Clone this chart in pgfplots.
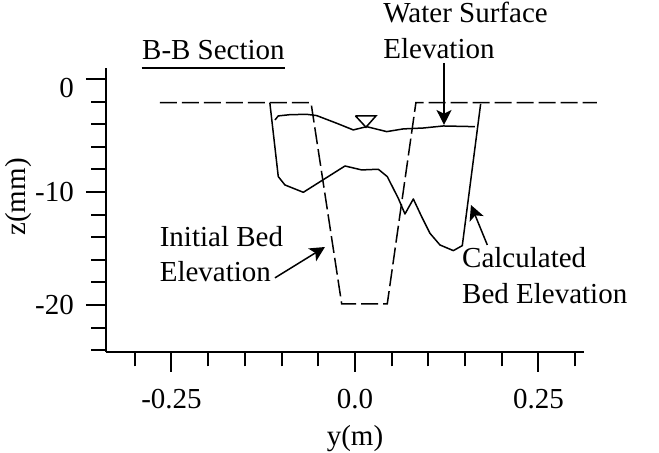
\documentclass[border=0pt]{standalone}
\usepackage{fontspec}
\setmainfont{Liberation Serif}
\usepackage{pgfplots}
\pgfplotsset{compat=1.18}
\usetikzlibrary{arrows.meta}
\newcommand{\ff}{\fontsize{11.6pt}{14pt}\selectfont}
\begin{document}
\ff
\begin{tikzpicture}[font=\ff]
\useasboundingbox (-42.4pt,-40.4pt) rectangle (221.2pt,140.8pt);
\begin{axis}[
 at={(0,0)}, anchor=south west,
 scale only axis, width=191.2pt, height=113.6pt,
 xmin=-0.3392, xmax=0.312, ymin=-24.16, ymax=0.97,
 axis x line*=bottom, axis y line*=left,
 axis line style={-, line width=0.8pt},
 tick align=outside, major tick length=8pt, minor tick length=5.8pt,
 tick style={black, line width=0.8pt},
 xtick={-0.25,0,0.25}, xticklabels={-0.25,0.0,0.25},
 minor xtick={-0.3,-0.2,-0.15,-0.1,-0.05,0.05,0.1,0.15,0.2,0.3},
 ytick={-10,-20}, yticklabels={-10,-20},
 extra y ticks={0}, extra y tick labels={0},
 extra y tick style={grid=none, yticklabel style={yshift=-3.6pt}},
 minor ytick={-2,-4,-6,-8,-12,-14,-16,-18,-22,-24},
 every tick label/.append style={font=\ff},
 xticklabel style={yshift=-3pt},
 yticklabel style={xshift=-0.8pt},
 clip=false,
]
% initial bed elevation
\addplot[black, line width=0.6pt, dash pattern=on 6.8pt off 2pt] coordinates {
 (-0.2657,-2.1) (-0.0599,-2.1) (-0.0181,-19.9) (0.044,-19.9) (0.083,-2.1) (0.3294,-2.1)};
% calculated bed elevation
\addplot[black, line width=0.6pt, line join=round] coordinates {
 (-0.116,-2.1) (-0.1045,-8.64) (-0.0954,-9.38) (-0.0704,-10.03) (-0.0136,-7.70)
 (0.0091,-8.05) (0.0318,-7.99) (0.044,-8.64) (0.059,-10.56) (0.0681,-11.95)
 (0.0795,-10.62) (0.0908,-12.18) (0.1022,-13.66) (0.1158,-14.69) (0.134,-15.19)
 (0.1462,-14.75) (0.1712,-2.21)};
% water surface
\addplot[black, line width=0.6pt, line join=round] coordinates {
 (-0.109,-3.63) (-0.1045,-3.27) (-0.0886,-3.16) (-0.0658,-3.13) (-0.0522,-3.24)
 (-0.0249,-3.92) (-0.0023,-4.51) (0.0159,-4.22) (0.0432,-4.66) (0.0658,-4.42)
 (0.0931,-4.34) (0.1203,-4.16) (0.1635,-4.22)};
% water surface symbol
\addplot[black, line width=0.6pt, line join=miter] coordinates {
 (0.0007,-3.27) (0.0286,-3.27) (0.015,-4.27) (0.0007,-3.27)};
% annotations
\node[anchor=base west, inner sep=0pt] (bb) at (axis cs:-0.2906,1.68) {B-B Section};
\draw[line width=0.8pt] ([yshift=-3.1pt]bb.base west) -- ([yshift=-3.1pt]bb.base east);
\node[anchor=base west, inner sep=0pt] at (axis cs:0.0381,4.98) {Water Surface};
\node[anchor=base west, inner sep=0pt] at (axis cs:0.0381,1.77) {Elevation};
\draw[line width=0.6pt, -{Stealth[length=6pt,width=6pt,inset=1.5pt]}] (axis cs:0.1213,1.42) -- (axis cs:0.1213,-4.07);
\node[anchor=base west, inner sep=0pt] at (axis cs:-0.2666,-14.84) {Initial Bed};
\node[anchor=base west, inner sep=0pt] at (axis cs:-0.2666,-17.94) {Elevation};
\draw[line width=0.6pt, -{Stealth[length=6pt,width=6pt,inset=1.5pt]}] (axis cs:-0.109,-17.6) -- (axis cs:-0.0409,-14.87);
\node[anchor=base west, inner sep=0pt] at (axis cs:0.1454,-16.66) {Calculated};
\node[anchor=base west, inner sep=0pt] at (axis cs:0.1454,-19.85) {Bed Elevation};
\draw[line width=0.6pt, -{Stealth[length=6pt,width=6pt,inset=1.5pt]}] (axis cs:0.1803,-14.69) -- (axis cs:0.158,-11.15);
% axis labels
\node[anchor=base] at (axis cs:0,-32.4) {y(m)};
\node[rotate=90] at (axis cs:-0.459,-10.44) {z(mm)};
\end{axis}
\end{tikzpicture}
\end{document}
